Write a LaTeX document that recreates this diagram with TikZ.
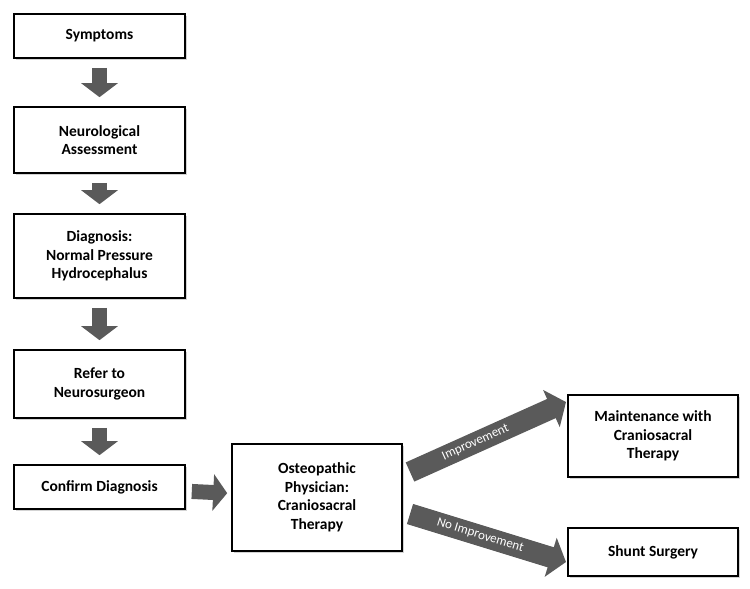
\documentclass[tikz,border=0pt]{standalone}
\usepackage{fontspec}
\setmainfont{Carlito}
\usetikzlibrary{arrows.meta,shadows,calc}
\definecolor{arrowgray}{HTML}{5A5A5A}
\tikzset{
  box/.style={draw, line width=1.6pt, fill=white, align=center, font=\bfseries\fontsize{15.5}{18.5}\selectfont,
    drop shadow={shadow xshift=2pt, shadow yshift=-2pt, opacity=0.35}},
  fat/.style={draw=arrowgray, line width=15pt, shorten >=9pt, shorten <=9pt,
    -{Triangle[length=14pt, width=36pt]}},
  tag/.style={text=white, font=\fontsize{13}{15}\selectfont, sloped}
}
\begin{document}
\begin{tikzpicture}[x=1pt,y=-1pt]
\useasboundingbox (0,0) rectangle (750,589);

\node[box, minimum width=171pt, minimum height=44pt] (symp) at (99.5,36) {Symptoms};
\node[box, minimum width=171pt, minimum height=66pt] (neuro) at (99.5,140) {Neurological\\Assessment};
\node[box, minimum width=171pt, minimum height=84pt] (diag) at (99.5,256) {Diagnosis:\\Normal Pressure\\Hydrocephalus};
\node[box, minimum width=171pt, minimum height=68pt] (refer) at (99.5,384) {Refer to\\Neurosurgeon};
\node[box, minimum width=171pt, minimum height=44pt] (conf) at (99.5,487) {Confirm Diagnosis};
\node[box, minimum width=170pt, minimum height=107pt] (osteo) at (317,497.5) {Osteopathic\\Physician:\\Craniosacral\\Therapy};
\node[box, minimum width=170pt, minimum height=82pt] (maint) at (653,436) {Maintenance with\\Craniosacral\\Therapy};
\node[box, minimum width=170pt, minimum height=48pt] (shunt) at (653,552) {Shunt Surgery};

\draw[fat] (symp) -- (neuro);
\draw[fat] (neuro) -- (diag);
\draw[fat] (diag) -- (refer);
\draw[fat] (refer) -- (conf);
\draw[fat, shorten >=4pt, shorten <=6pt] (conf) -- (osteo);

\coordinate (impS) at (410,472);
\coordinate (impE) at (566,402);
\coordinate (noS) at (410,514);
\coordinate (noE) at (566,562);
\draw[fat, shorten >=0pt, shorten <=0pt, line width=21pt, -{Triangle[length=16pt, width=40pt]}] (impS) -- (impE)
  node[tag, pos=0.42] {Improvement};
\draw[fat, shorten >=0pt, shorten <=0pt, line width=21pt, -{Triangle[length=16pt, width=40pt]}] (noS) -- (noE)
  node[tag, pos=0.45] {No Improvement};
\end{tikzpicture}
\end{document}
